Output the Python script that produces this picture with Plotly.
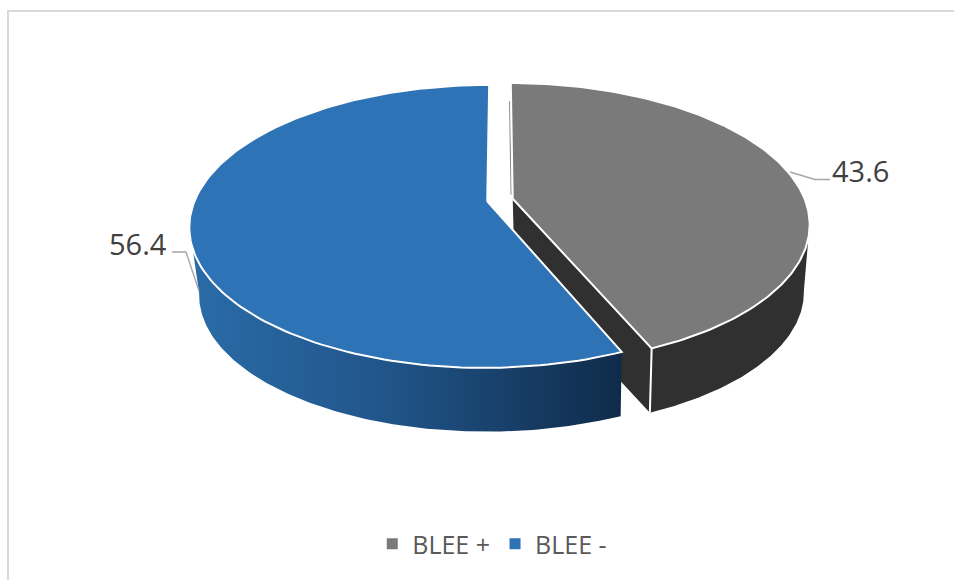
import numpy as np
import plotly.graph_objects as go

categories = ["BLEE +", "BLEE -"]
values = [43.6, 56.4]
value_labels = ["43.6", "56.4"]
top_colors = ["#7a7a7a", "#2e73b5"]

# Projection constants for the tilted disc (pixel space)
CX, CY = 500.0, 200.0
A, B, K = 292.3, 136.6, 0.1773
EXPLODE = 0.0445
DEPTH = 68.0
SHRINK = 0.975
LOW_DX = 2.0

total = sum(values)
sweep = [v / total * 2 * np.pi for v in values]
gray_a = (0.0, sweep[0])
blue_a = (sweep[0], 2 * np.pi)


def project(ang, r, bis, low=False):
    X = r * np.sin(ang) + EXPLODE * np.sin(bis)
    Y = r * np.cos(ang) + EXPLODE * np.cos(bis)
    w = 1 + K * Y
    sx = A * X / w
    sy = -B * Y / w
    if low:
        return CX + LOW_DX + SHRINK * sx, CY + DEPTH + SHRINK * sy
    return CX + sx, CY + sy


def arc(a0, a1, n=160):
    return np.linspace(a0, a1, n)


fig = go.Figure()
bis_g = sum(gray_a) / 2
bis_b = sum(blue_a) / 2
EDGE = dict(color="white", width=2)


def poly(x, y, **kw):
    fig.add_trace(go.Scatter(x=np.r_[x, x[0]], y=np.r_[y, y[0]], mode="lines", fill="toself",
                             hoverinfo="skip", showlegend=False, **kw))


# Gray cut wall and outer wall
end = np.array([gray_a[1]])
ax, ay = project(np.array([0.0]), 0.0, bis_g)
alx, aly = project(np.array([0.0]), 0.0, bis_g, True)
ex, ey = project(end, 1.0, bis_g)
elx, ely = project(end, 1.0, bis_g, True)
poly(np.r_[ax, ex, elx, alx], np.r_[ay, ey, ely, aly], fillcolor="#303030", line=dict(color="#303030", width=0))
ang = arc(np.radians(100), gray_a[1])
ux, uy = project(ang, 1.0, bis_g)
lx, ly = project(ang, 1.0, bis_g, True)
poly(np.r_[ux, lx[::-1]], np.r_[uy, ly[::-1]], fillcolor="#303030", line=dict(color="#303030", width=0))
fig.add_trace(go.Scatter(x=np.r_[ex, elx], y=np.r_[ey, ely], mode="lines", line=EDGE, hoverinfo="skip", showlegend=False))

# Thin sliver along the first cut edge of the gray slice
rr = np.array([0.82, 0.03])
sx_, sy_ = project(np.zeros(2), rr, bis_g)
fig.add_trace(go.Scatter(x=sx_ - 1.5, y=sy_, mode="lines", line=dict(color="#8a8a8a", width=1.2),
                         hoverinfo="skip", showlegend=False))

# Gray top
ang = arc(*gray_a)
ux, uy = project(ang, 1.0, bis_g)
poly(np.r_[ax, ux], np.r_[ay, uy], fillcolor=top_colors[0], line=EDGE)

# Blue outer wall
ang = arc(blue_a[0], np.radians(260))
ux, uy = project(ang, 1.0, bis_b)
lx, ly = project(ang, 1.0, bis_b, True)
poly(np.r_[ux, lx[::-1]], np.r_[uy, ly[::-1]], line=dict(color="#1f4f80", width=0),
     fillgradient=dict(type="horizontal",
                       colorscale=[[0, "#2a6ca8"], [0.45, "#21558a"], [1, "#0f2b4a"]]))

# Blue top
bx, by = project(np.array([0.0]), 0.0, bis_b)
ang = arc(*blue_a)
ux, uy = project(ang, 1.0, bis_b)
poly(np.r_[bx, ux], np.r_[by, uy], fillcolor=top_colors[1], line=EDGE)

# Leader lines
leader_x = [[790, 815, 830], [172, 186, 199]]
leader_y = [[172, 179.5, 179.5], [252, 252, 291]]
for lxs, lys in zip(leader_x, leader_y):
    fig.add_trace(go.Scatter(x=lxs, y=lys, mode="lines", line=dict(color="#a6a6a6", width=1.4),
                             hoverinfo="skip", showlegend=False))

# Legend entries
for name, col in zip(categories, top_colors):
    fig.add_trace(go.Scatter(x=[None], y=[None], mode="markers", name=name,
                             marker=dict(symbol="square", size=11, color=col)))

# Data labels
fig.add_annotation(x=860, y=170, text=value_labels[0], showarrow=False,
                   font=dict(family="Open Sans", size=29, color="#404040"))
fig.add_annotation(x=138, y=243, text=value_labels[1], showarrow=False,
                   font=dict(family="Open Sans", size=29, color="#404040"))

# Frame
fig.add_shape(type="line", x0=7, x1=954, y0=11, y1=11, line=dict(color="#d9d9d9", width=2))
fig.add_shape(type="line", x0=8, x1=8, y0=10, y1=580, line=dict(color="#d9d9d9", width=2))

fig.update_layout(
    width=954, height=580, margin=dict(l=0, r=0, t=0, b=0),
    paper_bgcolor="white", plot_bgcolor="white",
    xaxis=dict(range=[0, 954], visible=False, fixedrange=True),
    yaxis=dict(range=[580, 0], visible=False, fixedrange=True),
    font=dict(family="Open Sans"),
    legend=dict(orientation="h", x=0.516, xanchor="center", y=0.062, yanchor="middle",
                font=dict(size=25, color="#595959"), bgcolor="rgba(0,0,0,0)"),
)
fig.write_html("out.html", config={"displayModeBar": False},
               post_script="document.body.style.margin='0';document.documentElement.style.overflow='hidden';")
